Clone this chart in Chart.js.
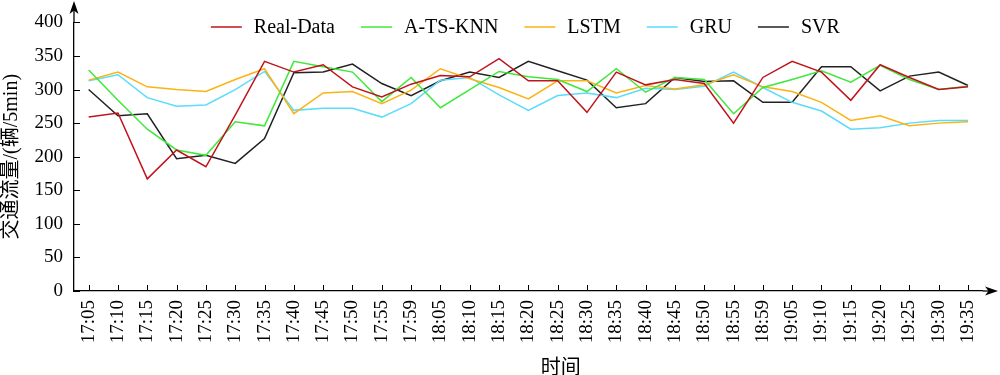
<!DOCTYPE html>
<html>
<head>
<meta charset="utf-8">
<script src="https://cdn.jsdelivr.net/npm/chart.js@4.4.0/dist/chart.umd.min.js"></script>
<style>
  body { margin: 0; background: #fff; }
  #wrap { width: 1000px; height: 375px; }
</style>
</head>
<body>
<div id="wrap"><canvas id="flujo"></canvas></div>
<script>
// Datos (vehículos / 5 min)
const horas = ['17:05', '17:10', '17:15', '17:20', '17:25', '17:30', '17:35', '17:40', '17:45', '17:50',
  '17:55', '17:59', '18:05', '18:10', '18:15', '18:20', '18:25', '18:30', '18:35', '18:40',
  '18:45', '18:50', '18:55', '18:59', '19:05', '19:10', '19:15', '19:20', '19:25', '19:30', '19:35'];

const realData = [259, 265, 167, 210, 185, 262, 342, 326, 337, 304, 289, 308, 321, 319, 346, 313,
  313, 266, 326, 307, 315, 309, 250, 318, 342, 326, 284, 337, 318, 300, 304];
const atsKnn = [329, 284, 241, 210, 202, 252, 246, 342, 334, 326, 282, 318, 273, 300, 327, 319,
  315, 297, 331, 296, 318, 315, 264, 303, 315, 328, 311, 336, 315, 300, 305];
const lstm = [314, 326, 304, 300, 297, 315, 331, 264, 295, 297, 279, 299, 331, 316, 303, 286,
  313, 313, 295, 306, 301, 307, 322, 304, 297, 281, 254, 261, 246, 250, 252];
const gru = [313, 322, 288, 275, 277, 300, 327, 269, 272, 272, 259, 279, 314, 318, 292, 269,
  291, 295, 288, 302, 300, 305, 326, 303, 281, 268, 241, 243, 250, 254, 254];
const svr = [300, 261, 264, 197, 202, 190, 227, 325, 326, 338, 309, 291, 313, 326, 318, 342,
  328, 314, 273, 279, 318, 312, 313, 281, 281, 334, 334, 298, 320, 326, 306];

const yTicks = [0, 50, 100, 150, 200, 250, 300, 350, 400];

const fuenteSerif = "'Liberation Serif', 'Times New Roman', 'Noto Sans CJK SC', serif";
const fuenteCJK = "'Noto Sans CJK SC', 'Liberation Serif', sans-serif";

function serie(label, data, color) {
  return {
    label: label,
    data: data,
    borderColor: color,
    backgroundColor: color,
    borderWidth: 1.5,
    pointRadius: 0,
    tension: 0,
    fill: false
  };
}

// ===============================
// Ejes con flechas, marcas internas, leyenda y título X
// ===============================
const ejesPlugin = {
  id: 'ejes',
  afterDraw(chart) {
    const { ctx, chartArea, scales } = chart;
    const xs = scales.x;
    const ys = scales.y;
    const left = chartArea.left;
    const bottom = chartArea.bottom;

    ctx.save();
    ctx.strokeStyle = '#000';
    ctx.fillStyle = '#000';
    ctx.lineWidth = 1.3;

    // prolongación del eje Y y flecha
    ctx.beginPath();
    ctx.moveTo(left, chartArea.top);
    ctx.lineTo(left, 10);
    ctx.stroke();
    ctx.beginPath();
    ctx.moveTo(left, 1);
    ctx.lineTo(left - 4.5, 14);
    ctx.lineTo(left, 10.5);
    ctx.lineTo(left + 4.5, 14);
    ctx.closePath();
    ctx.fill();

    // prolongación del eje X y flecha
    ctx.beginPath();
    ctx.moveTo(chartArea.right, bottom);
    ctx.lineTo(990, bottom);
    ctx.stroke();
    ctx.beginPath();
    ctx.moveTo(998, bottom);
    ctx.lineTo(985, bottom - 4.5);
    ctx.lineTo(988.5, bottom);
    ctx.lineTo(985, bottom + 4.5);
    ctx.closePath();
    ctx.fill();

    // marcas hacia dentro
    ctx.lineWidth = 1;
    ctx.beginPath();
    ys.ticks.forEach(t => {
      const py = Math.round(ys.getPixelForValue(t.value)) + 0.5;
      ctx.moveTo(left, py);
      ctx.lineTo(left + 6, py);
    });
    xs.ticks.forEach((t, i) => {
      const px = Math.round(xs.getPixelForTick(i)) + 0.5;
      ctx.moveTo(px, bottom);
      ctx.lineTo(px, bottom - 6);
    });
    ctx.stroke();

    // título del eje X
    ctx.font = '20px ' + fuenteCJK;
    ctx.textAlign = 'center';
    ctx.textBaseline = 'middle';
    ctx.fillText('时间', xs.getPixelForTick(16) + 3, 366);

    // leyenda
    ctx.font = '20px ' + fuenteSerif;
    ctx.textAlign = 'left';
    const largoLinea = 31;
    const separacion = 12;
    const hueco = 26;
    const items = chart.data.datasets.map(ds => ({
      label: ds.label,
      color: ds.borderColor,
      ancho: ctx.measureText(ds.label).width
    }));
    const total = items.reduce((s, it) => s + largoLinea + separacion + it.ancho, 0) + hueco * (items.length - 1);
    let cx = (chartArea.left + chartArea.right) / 2 - total / 2 - 3;
    const cy = 27;
    items.forEach(it => {
      ctx.strokeStyle = it.color;
      ctx.lineWidth = 1.5;
      ctx.beginPath();
      ctx.moveTo(cx, cy);
      ctx.lineTo(cx + largoLinea, cy);
      ctx.stroke();
      ctx.fillStyle = '#000';
      ctx.fillText(it.label, cx + largoLinea + separacion, cy + 1);
      cx += largoLinea + separacion + it.ancho + hueco;
    });

    ctx.restore();
  }
};

const ctx = document.getElementById('flujo').getContext('2d');
const flujoChart = new Chart(ctx, {
  type: 'line',
  data: {
    labels: horas,
    datasets: [
      serie('Real-Data', realData, '#c0141c'),
      serie('A-TS-KNN', atsKnn, '#3fe83a'),
      serie('LSTM', lstm, '#fbb314'),
      serie('GRU', gru, '#5adcfa'),
      serie('SVR', svr, '#222222')
    ]
  },
  options: {
    responsive: true,
    maintainAspectRatio: false,
    animation: false,
    layout: {
      padding: { top: 18, right: 9, left: 0, bottom: 0 }
    },
    plugins: {
      legend: { display: false },
      tooltip: { enabled: false }
    },
    scales: {
      x: {
        offset: true,
        grid: { display: false, drawTicks: false },
        border: { display: true, color: '#000', width: 1.3 },
        ticks: {
          color: '#000',
          font: { family: fuenteSerif, size: 19 },
          padding: 9,
          minRotation: 90,
          maxRotation: 90,
          autoSkip: false
        },
        afterFit: function(scale) {
          scale.height = 84;
        }
      },
      y: {
        min: 0,
        max: 400,
        grid: { display: false, drawTicks: false },
        border: { display: true, color: '#000', width: 1.3 },
        afterBuildTicks: function(scale) {
          scale.ticks = yTicks.map(v => ({ value: v }));
        },
        ticks: {
          color: '#000',
          font: { family: fuenteSerif, size: 19 },
          padding: 11
        },
        title: {
          display: true,
          text: '交通流量/(辆/5min)',
          color: '#000',
          font: { family: fuenteSerif, size: 20 },
          padding: { top: 0, bottom: 0 }
        },
        afterFit: function(scale) {
          scale.width = 74;
        }
      }
    }
  },
  plugins: [ejesPlugin]
});
</script>
</body>
</html>
